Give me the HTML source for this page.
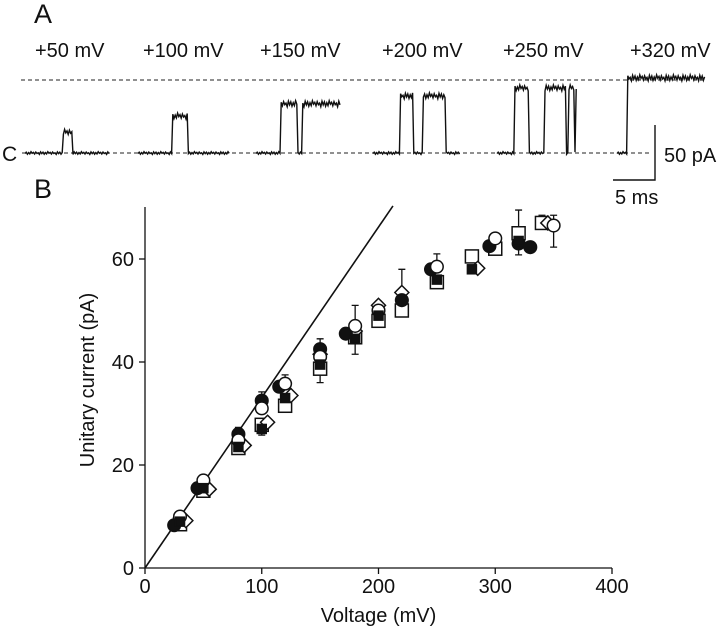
<!DOCTYPE html>
<html><head><meta charset="utf-8"><style>
body{margin:0;background:#fff;}
svg text{font-family:"Liberation Sans",Arial,sans-serif;fill:#111;}
</style></head><body>
<svg id="fig" width="720" height="632" viewBox="0 0 720 632" xmlns="http://www.w3.org/2000/svg">
<text x="34" y="23" font-size="27">A</text>
<text x="34" y="198" font-size="27">B</text>
<g id="panelA"></g>
<g id="panelB"></g>
</svg>
<script>
// ---- Panel A data ----
const traceLabels=["+50 mV","+100 mV","+150 mV","+200 mV","+250 mV","+320 mV"];
const traceStart=[25,138,256,373,497,617];
const traceEnd=[110,230,341,460,577,705];
const traceLevel=[18.5,33,44,51,58,67]; // pA
const traceOpenings=[[[63,73]],[[172,188]],[[280,297],[302,341]],[[400,413],[423,445]],[[514,529],[545,566],[569,574],[576,577]],[[627,705]]];
// ---- Panel B data ----
const xTicks=[0,100,200,300,400];
const yTicks=[0,20,40,60];
const fitSlope=0.331;
const filledCircleV=[25,45,80,100,115,150,172,220,245,295,320,330];
const filledCircleI=[8.3,15.5,26,32.5,35.2,42.5,45.5,52,58,62.5,63,62.3];
const openCircleV=[30,50,80,100,120,150,180,200,250,300,350];
const openCircleI=[10,17,24.8,31,35.8,41,47,50,58.5,64,66.5];
const filledSquareV=[30,50,80,100,120,150,180,200,250,280,320];
const filledSquareI=[9,15.5,23.5,27,33,39.5,44.5,49,56,58,63.5];
const openSquareV=[30,50,80,100,120,150,180,200,220,250,280,300,320,340];
const openSquareI=[8.5,15,23.3,27.8,31.5,38.7,44.8,48,50,55.5,60.5,62,65,67];
const openDiamondV=[35,55,85,105,125,150,180,200,220,285,345];
const openDiamondI=[9.2,15.3,23.8,28.3,33.5,41.5,46,51,53.5,58.2,67];
const errV=[80,100,100,120,150,150,180,180,200,220,250,320,320,340,350,350];
const errMid=[26,32.5,27,35.8,42.5,38.7,47,44.8,50,53.5,58.5,65,63,67,66.5,66.5];
const errEnd=[27.3,34.2,25.8,37.5,44.5,36,51,41.5,51.8,58,61,69.5,60.8,68.5,68.5,62.3];

const NS="http://www.w3.org/2000/svg";
function mk(tag,attrs,parent){const e=document.createElementNS(NS,tag);for(const k in attrs)e.setAttribute(k,attrs[k]);parent.appendChild(e);return e;}

// Panel A
const A=document.getElementById('panelA');
const baseY=153, ampScale=(153-80)/65;
let l1=mk('line',{x1:21,y1:80,x2:705,y2:80,stroke:'#222','stroke-width':1,'stroke-dasharray':'4,3'},A);

let l2=mk('line',{x1:22,y1:153,x2:650,y2:153,stroke:'#222','stroke-width':1,'stroke-dasharray':'4,3'},A);

const labelX=[35,143,260,382,503,630];
const jit=[0.6,-0.8,1.2,-0.4,0.9,-1.3,0.3,-0.6,1.0,-0.9,0.5,-0.2,1.4,-1.1];
traceLabels.forEach((lab,i)=>{
  const t=mk('text',{x:labelX[i],y:57,'font-size':20},A);t.textContent=lab;
  
  let d='',k=0;
  for(let x=traceStart[i];x<=traceEnd[i];x+=1.2){
    let open=traceOpenings[i].some(o=>x>=o[0]&&x<=o[1]);
    let y=baseY-(open?traceLevel[i]*ampScale:0)+jit[k%14]*(open?2.2:1);k++;
    d+=(d?'L':'M')+x.toFixed(1)+','+y.toFixed(1);
  }
  const p=mk('path',{d:d,fill:'none',stroke:'#111','stroke-width':1.4},A);
  
});
let c=mk('text',{x:2,y:161,'font-size':21},A);c.textContent='C';

let sb=mk('path',{d:'M613,180 L655,180 L655,125',fill:'none',stroke:'#111','stroke-width':1.4},A);

let s1=mk('text',{x:664,y:162,'font-size':20},A);s1.textContent='50 pA';

let s2=mk('text',{x:615,y:204,'font-size':20},A);s2.textContent='5 ms';


// Panel B
const B=document.getElementById('panelB');
const X=v=>145+v*(612-145)/400;
const Y=v=>568-v*(568-259)/60;
let ax=mk('path',{d:`M${X(0)},207 L${X(0)},${Y(0)} L${X(400)},${Y(0)}`,fill:'none',stroke:'#111','stroke-width':1.3},B);

xTicks.forEach(v=>{
  let t=mk('line',{x1:X(v),y1:Y(0),x2:X(v),y2:Y(0)+6,stroke:'#111','stroke-width':1.3},B);
  
  let l=mk('text',{x:X(v),y:593,'font-size':20,'text-anchor':'middle'},B);l.textContent=v;
  
});
yTicks.forEach(v=>{
  let t=mk('line',{x1:X(0)-6,y1:Y(v),x2:X(0),y2:Y(v),stroke:'#111','stroke-width':1.3},B);
  
  let l=mk('text',{x:X(0)-11,y:Y(v)+7,'font-size':20,'text-anchor':'end'},B);l.textContent=v;
  
});
let xt=mk('text',{x:X(200),y:622,'font-size':20,'text-anchor':'middle'},B);xt.textContent='Voltage (mV)';

let yt=mk('text',{x:0,y:0,'font-size':20,'text-anchor':'middle',transform:`translate(94,380) rotate(-90)`},B);yt.textContent='Unitary current (pA)';

const vEnd=70.3/fitSlope;
let fl=mk('line',{x1:X(0),y1:Y(0),x2:X(vEnd),y2:Y(fitSlope*vEnd),stroke:'#111','stroke-width':1.6},B);

errV.forEach((v,i)=>{
  const x=X(v),y0=Y(errMid[i]),y1=Y(errEnd[i]);
  let p=mk('path',{d:`M${x},${y0} L${x},${y1} M${x-3.5},${y1} L${x+3.5},${y1}`,stroke:'#111','stroke-width':1.3,fill:'none'},B);
  
});
function series(Vs,Is,shape,fillc,name){
  Vs.forEach((v,i)=>{
    const x=X(v),y=Y(Is[i]);let e;
    if(shape==='c')e=mk('circle',{cx:x,cy:y,r:6.3,fill:fillc,stroke:'#111','stroke-width':1.5},B);
    else if(shape==='s'){const r=fillc=='#111'?4.5:6.5;e=mk('rect',{x:x-r,y:y-r,width:2*r,height:2*r,fill:fillc,stroke:'#111','stroke-width':1.5},B);}
    else e=mk('path',{d:`M${x},${y-7} L${x+7},${y} L${x},${y+7} L${x-7},${y} Z`,fill:fillc,stroke:'#111','stroke-width':1.5},B);
    
    
  });
}
series(openSquareV,openSquareI,'s','#fff','open-square-point');
series(openDiamondV,openDiamondI,'d','#fff','open-diamond-point');
series(filledCircleV,filledCircleI,'c','#111','filled-circle-point');
series(openCircleV,openCircleI,'c','#fff','open-circle-point');
series(filledSquareV,filledSquareI,'s','#111','filled-square-point');
</script>
</body></html>
